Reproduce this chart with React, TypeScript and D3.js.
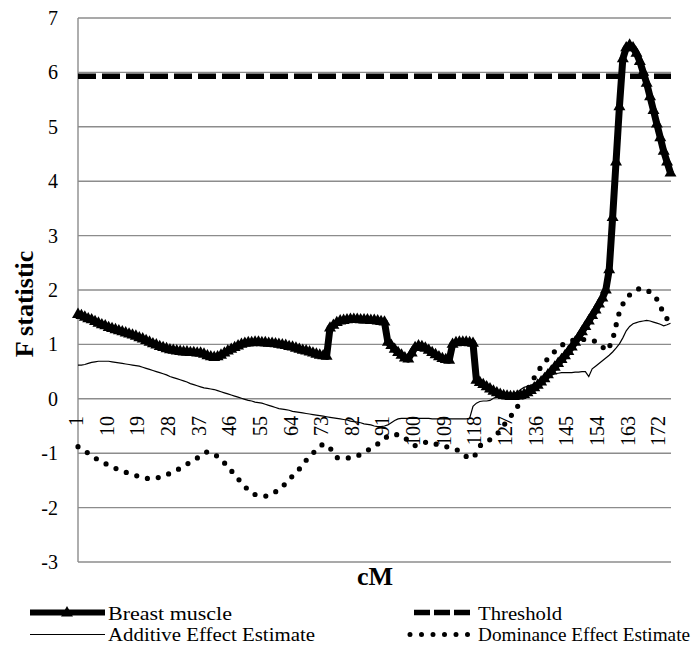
import React from "react";
import * as d3 from "d3";

const categories: number[] = d3.range(1, 176);
const tickLabels: number[] = [1, 10, 19, 28, 37, 46, 55, 64, 73, 82, 91, 100, 109, 118, 127, 136, 145, 154, 163, 172];
const yTicks: number[] = [-3, -2, -1, 0, 1, 2, 3, 4, 5, 6, 7];
const thresholdValue = 5.93;

const breastMuscle: number[] = [
  1.55, 1.53, 1.50, 1.47, 1.45, 1.42, 1.39, 1.36, 1.34, 1.31,
  1.29, 1.27, 1.25, 1.23, 1.21, 1.19, 1.17, 1.15, 1.12, 1.10,
  1.07, 1.04, 1.01, 0.99, 0.96, 0.94, 0.92, 0.90, 0.89, 0.88,
  0.87, 0.86, 0.86, 0.85, 0.85, 0.84, 0.84, 0.82, 0.79, 0.77,
  0.76, 0.77, 0.80, 0.84, 0.88, 0.91, 0.94, 0.97, 1.00, 1.02,
  1.03, 1.03, 1.04, 1.04, 1.03, 1.03, 1.02, 1.02, 1.01, 1.00,
  0.99, 0.98, 0.96, 0.95, 0.93, 0.91, 0.89, 0.88, 0.86, 0.84,
  0.82, 0.80, 0.79, 0.78, 1.30, 1.35, 1.40, 1.43, 1.44, 1.45,
  1.46, 1.46, 1.46, 1.45, 1.45, 1.45, 1.44, 1.44, 1.43, 1.42,
  1.41, 1.04, 0.98, 0.91, 0.85, 0.80, 0.75, 0.73, 0.84, 0.94,
  0.97, 0.96, 0.93, 0.89, 0.85, 0.81, 0.77, 0.74, 0.72, 0.71,
  1.00, 1.03, 1.04, 1.04, 1.04, 1.03, 1.02, 0.34, 0.30, 0.26,
  0.22, 0.18, 0.14, 0.11, 0.08, 0.06, 0.05, 0.04, 0.04, 0.05,
  0.06, 0.08, 0.11, 0.15, 0.20, 0.25, 0.31, 0.37, 0.44, 0.51,
  0.58, 0.65, 0.72, 0.79, 0.87, 0.95, 1.04, 1.13, 1.23, 1.33,
  1.43, 1.53, 1.63, 1.74, 1.85, 2.00, 2.37, 3.33, 4.35, 5.37,
  6.25, 6.45, 6.50, 6.45, 6.35, 6.20, 6.00, 5.80, 5.55, 5.30,
  5.05, 4.80, 4.55, 4.35, 4.15,
];

const additive: number[] = [
  0.62, 0.62, 0.63, 0.65, 0.67, 0.68, 0.69, 0.69, 0.69, 0.69,
  0.68, 0.67, 0.66, 0.65, 0.64, 0.63, 0.62, 0.61, 0.60, 0.58,
  0.56, 0.54, 0.52, 0.50, 0.48, 0.46, 0.44, 0.41, 0.39, 0.37,
  0.35, 0.33, 0.31, 0.28, 0.26, 0.24, 0.22, 0.20, 0.19, 0.18,
  0.17, 0.15, 0.13, 0.11, 0.09, 0.07, 0.05, 0.03, 0.01, -0.01,
  -0.03, -0.04, -0.06, -0.07, -0.08, -0.10, -0.12, -0.14, -0.16, -0.18,
  -0.19, -0.20, -0.21, -0.23, -0.24, -0.25, -0.26, -0.27, -0.28, -0.29,
  -0.30, -0.31, -0.32, -0.33, -0.34, -0.35, -0.36, -0.37, -0.38, -0.39,
  -0.41, -0.42, -0.43, -0.44, -0.46, -0.47, -0.48, -0.50, -0.51, -0.51,
  -0.50, -0.48, -0.44, -0.40, -0.37, -0.36, -0.36, -0.36, -0.36, -0.36,
  -0.36, -0.36, -0.36, -0.36, -0.37, -0.37, -0.37, -0.37, -0.37, -0.37,
  -0.37, -0.37, -0.37, -0.37, -0.37, -0.36, -0.14, -0.08, -0.05, -0.04,
  -0.04, -0.03, 0.01, 0.03, 0.05, 0.06, 0.07, 0.08, 0.10, 0.12,
  0.17, 0.21, 0.23, 0.25, 0.28, 0.31, 0.34, 0.37, 0.40, 0.43,
  0.46, 0.47, 0.48, 0.48, 0.48, 0.48, 0.49, 0.49, 0.50, 0.50,
  0.41, 0.55, 0.60, 0.65, 0.70, 0.75, 0.80, 0.86, 0.93, 1.01,
  1.12, 1.25, 1.33, 1.38, 1.40, 1.42, 1.43, 1.44, 1.43, 1.41,
  1.39, 1.37, 1.34, 1.36, 1.39,
];

const dominance: number[] = [
  -0.88, -0.92, -0.96, -1.00, -1.04, -1.09, -1.12, -1.15, -1.19, -1.22,
  -1.25, -1.28, -1.30, -1.32, -1.35, -1.37, -1.39, -1.41, -1.43, -1.45,
  -1.46, -1.47, -1.47, -1.46, -1.44, -1.42, -1.40, -1.37, -1.34, -1.31,
  -1.28, -1.24, -1.20, -1.17, -1.13, -1.09, -1.05, -1.01, -0.97, -0.99,
  -1.02, -1.06, -1.12, -1.18, -1.24, -1.32, -1.40, -1.47, -1.54, -1.61,
  -1.68, -1.73, -1.76, -1.78, -1.79, -1.79, -1.78, -1.75, -1.71, -1.67,
  -1.62, -1.55, -1.48, -1.42, -1.35, -1.29, -1.21, -1.13, -1.07, -1.00,
  -0.94, -0.88, -0.83, -0.85, -0.90, -1.00, -1.08, -1.09, -1.09, -1.09,
  -1.08, -1.06, -1.05, -1.02, -0.99, -0.95, -0.91, -0.87, -0.83, -0.79,
  -0.74, -0.68, -0.66, -0.66, -0.66, -0.67, -0.72, -0.77, -0.82, -0.86,
  -0.85, -0.82, -0.80, -0.79, -0.81, -0.83, -0.85, -0.87, -0.88, -0.89,
  -0.91, -0.93, -0.96, -1.01, -1.06, -1.09, -1.09, -1.00, -0.87, -0.81,
  -0.79, -0.75, -0.71, -0.66, -0.57, -0.49, -0.41, -0.33, -0.24, -0.15,
  -0.05, 0.06, 0.17, 0.28, 0.39, 0.50, 0.59, 0.67, 0.74, 0.81,
  0.87, 0.93, 0.98, 1.02, 1.05, 1.07, 1.08, 1.09, 1.09, 1.09,
  1.09, 1.08, 1.05, 1.00, 0.96, 0.88, 0.95, 1.08, 1.35, 1.60,
  1.74, 1.84, 1.91, 1.96, 2.00, 2.03, 2.02, 2.00, 1.96, 1.90,
  1.83, 1.70, 1.57, 1.47, 1.39,
];

const W = 699;
const H = 659;
const left = 78;
const right = 671;
const top = 18;
const bottom = 562;

export default function App() {
  const x = d3.scaleLinear().domain([1, 175]).range([left, right - 0.5]);
  const y = d3.scaleLinear().domain([-3, 7]).range([bottom, top]);

  const line = d3
    .line<number>()
    .x((_, i) => x(categories[i]))
    .y((d) => y(d));

  const tri = d3.symbol().type(d3.symbolTriangle).size(62)() as string;
  const serif = "'Liberation Serif', 'Times New Roman', serif";

  return (
    <svg
      width={W}
      height={H}
      style={{ position: "absolute", left: 0, top: 0, background: "#fff" }}
      fontFamily={serif}
    >
      <rect x={0} y={0} width={W} height={H} fill="#fff" />
      {yTicks.map((t) => (
        <line
          key={"g" + t}
          x1={left}
          x2={right}
          y1={y(t)}
          y2={y(t)}
          stroke="#8c8c8c"
          strokeWidth={1.4}
        />
      ))}
      <line x1={left} x2={left} y1={top} y2={bottom} stroke="#8c8c8c" strokeWidth={1.4} />
      {yTicks.map((t) => (
        <text
          key={"yl" + t}
          x={58}
          y={y(t)}
          textAnchor="end"
          dominantBaseline="central"
          fontSize={20}
          fill="#000"
        >
          {t}
        </text>
      ))}
      {tickLabels.map((c) => (
        <text
          key={"xl" + c}
          transform={`translate(${x(c) + 5},${416}) rotate(-90)`}
          textAnchor="end"
          fontSize={20}
          fill="#000"
        >
          {c}
        </text>
      ))}
      <line
        x1={left}
        x2={right}
        y1={y(thresholdValue)}
        y2={y(thresholdValue)}
        stroke="#000"
        strokeWidth={5.5}
        strokeDasharray="18 6"
      />
      <path d={line(additive) as string} fill="none" stroke="#000" strokeWidth={1.2} />
      <path
        d={line(dominance) as string}
        fill="none"
        stroke="#000"
        strokeWidth={5.2}
        strokeLinecap="round"
        strokeDasharray="0 11"
      />
      <path
        d={line(breastMuscle) as string}
        fill="none"
        stroke="#000"
        strokeWidth={7}
        strokeLinejoin="round"
      />
      {breastMuscle.map((v, i) => (
        <path key={"m" + i} d={tri} transform={`translate(${x(categories[i])},${y(v)})`} fill="#000" />
      ))}
      <text x={375} y={585} textAnchor="middle" fontSize={26} fontWeight="bold">
        cM
      </text>
      <text
        transform={`translate(33,304) rotate(-90)`}
        textAnchor="middle"
        fontSize={26}
        fontWeight="bold"
      >
        F statistic
      </text>
      <line x1={30} x2={105} y1={612.5} y2={612.5} stroke="#000" strokeWidth={6} />
      <path d={tri} transform="translate(67,613)" fill="#000" />
      <text x={108} y={620} fontSize={19} textLength={124} lengthAdjust="spacingAndGlyphs">
        Breast muscle
      </text>
      <line x1={414} x2={470} y1={612.5} y2={612.5} stroke="#000" strokeWidth={5.5} strokeDasharray="16 4" />
      <text x={478} y={620} fontSize={19} textLength={84} lengthAdjust="spacingAndGlyphs">
        Threshold
      </text>
      <line x1={30} x2={105} y1={634.5} y2={634.5} stroke="#000" strokeWidth={1.2} />
      <text x={108} y={641} fontSize={19} textLength={207} lengthAdjust="spacingAndGlyphs">
        Additive Effect Estimate
      </text>
      <line
        x1={410}
        x2={470}
        y1={634.5}
        y2={634.5}
        stroke="#000"
        strokeWidth={5}
        strokeLinecap="round"
        strokeDasharray="0 11.5"
      />
      <text x={478} y={641} fontSize={19} textLength={212} lengthAdjust="spacingAndGlyphs">
        Dominance Effect Estimate
      </text>
    </svg>
  );
}
